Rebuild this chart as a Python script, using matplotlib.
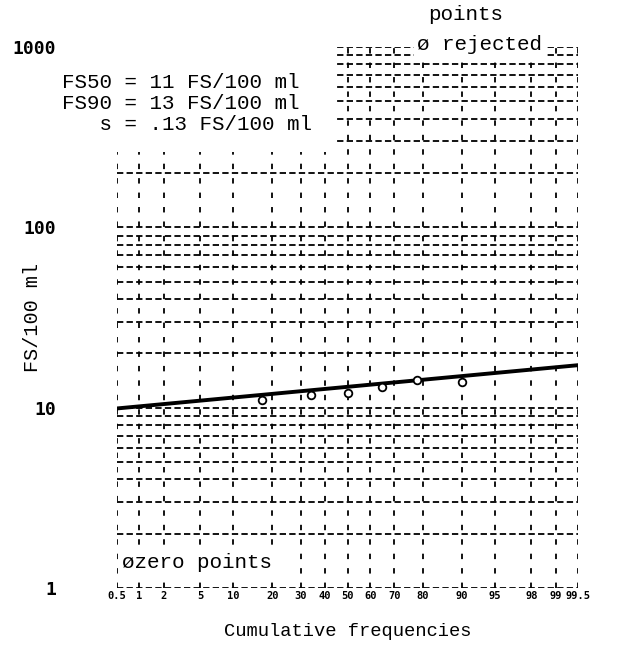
from statistics import NormalDist

import matplotlib
matplotlib.use("Agg")
import matplotlib.pyplot as plt
import numpy as np
from matplotlib.patches import Rectangle
from matplotlib.ticker import FixedLocator, NullFormatter

# probability ticks on the x axis (cumulative frequency, %)
prob_ticks = [0.5, 1, 2, 5, 10, 20, 30, 40, 50, 60, 70, 80, 90, 95, 98, 99, 99.5]
prob_labels = ["0.5", "1", "2", "5", "10", "20", "30", "40", "50", "60",
               "70", "80", "90", "95", "98", "99", "99.5"]
fs_ticks = [1, 10, 100, 1000]
fs_labels = ["1", "10", "100", "1000"]

# observed points (cumulative %, FS/100 ml)
obs_pct = [17, 34, 50, 65, 78, 90]
obs_fs = [11.0, 11.8, 12.0, 13.0, 14.3, 13.9]

# fitted log-normal line, ends of the probability range
fit_pct = [0.5, 99.5]
fit_fs = [9.9, 17.2]

nd = NormalDist()
_ppf = np.vectorize(nd.inv_cdf, otypes=[float])
_cdf = np.vectorize(nd.cdf, otypes=[float])


def prob_fwd(p):
    p = np.clip(np.asarray(p, dtype=float), 1e-6, 100 - 1e-6)
    return _ppf(p / 100.0)


def prob_inv(z):
    return _cdf(np.asarray(z, dtype=float)) * 100.0


mono = "Liberation Mono"
tickfont = "DejaVu Sans Mono"

fig = plt.figure(figsize=(6.3, 6.48), dpi=100)
W, H = 630, 648
ax = fig.add_axes([117 / W, 1 - 588 / H, 461 / W, 541 / H])

ax.set_xscale("function", functions=(prob_fwd, prob_inv))
ax.set_yscale("log")
ax.set_xlim(0.5, 99.5)
ax.set_ylim(1, 1000)

ax.xaxis.set_major_locator(FixedLocator(prob_ticks))
ax.set_xticklabels(prob_labels, fontfamily=tickfont, fontweight="bold", fontsize=7.5)
ax.xaxis.set_minor_locator(FixedLocator([]))
ax.yaxis.set_major_locator(FixedLocator(fs_ticks))
ax.set_yticklabels(fs_labels, fontfamily=tickfont, fontweight="bold", fontsize=13)
ax.yaxis.set_minor_formatter(NullFormatter())

ax.tick_params(axis="both", which="both", length=0)
ax.tick_params(axis="y", pad=44)
ax.tick_params(axis="x", pad=2)

for s in ax.spines.values():
    s.set_visible(False)

ax.grid(True, axis="x", which="major", color="black", lw=1.3, ls=(0, (3, 5)))
ax.grid(True, axis="y", which="both", color="black", lw=1.3, ls=(0, (3.5, 1.8)))
ax.set_axisbelow(True)

# blank area behind the summary text, top left of the grid
ax.add_patch(Rectangle((0, 0.805), 0.472, 0.2, transform=ax.transAxes,
                       fc="white", ec="none", zorder=1.5, clip_on=False))

ax.plot(fit_pct, fit_fs, color="black", lw=2.8, zorder=3)
ax.plot(obs_pct, obs_fs, "o", ms=5.5, mfc="white", mec="black", mew=1.3, zorder=4)

ax.set_xlabel("Cumulative frequencies", fontfamily=mono, fontsize=13.5, labelpad=16)
ax.set_ylabel("FS/100 ml", fontfamily=mono, fontsize=14.5)
ax.yaxis.set_label_coords((42 - 117) / 461, 0.5)

fig.text(62 / W, 1 - 73 / H,
         "FS50 = 11 FS/100 ml\nFS90 = 13 FS/100 ml\n   s = .13 FS/100 ml",
         fontfamily=mono, fontsize=15, va="top", ha="left", linespacing=1.15)

fig.text(466 / W, 1 - 15 / H, "points", fontfamily=mono, fontsize=15,
         ha="center", va="center")
fig.text(417 / W, 1 - 45 / H, "ø rejected", fontfamily=mono, fontsize=15,
         ha="left", va="center",
         bbox=dict(fc="white", ec="none", pad=2))
fig.text(122 / W, 1 - 563 / H, "øzero points", fontfamily=mono, fontsize=15,
         ha="left", va="center",
         bbox=dict(fc="white", ec="none", pad=1))

fig.savefig("out.png", dpi=100, facecolor="white")
